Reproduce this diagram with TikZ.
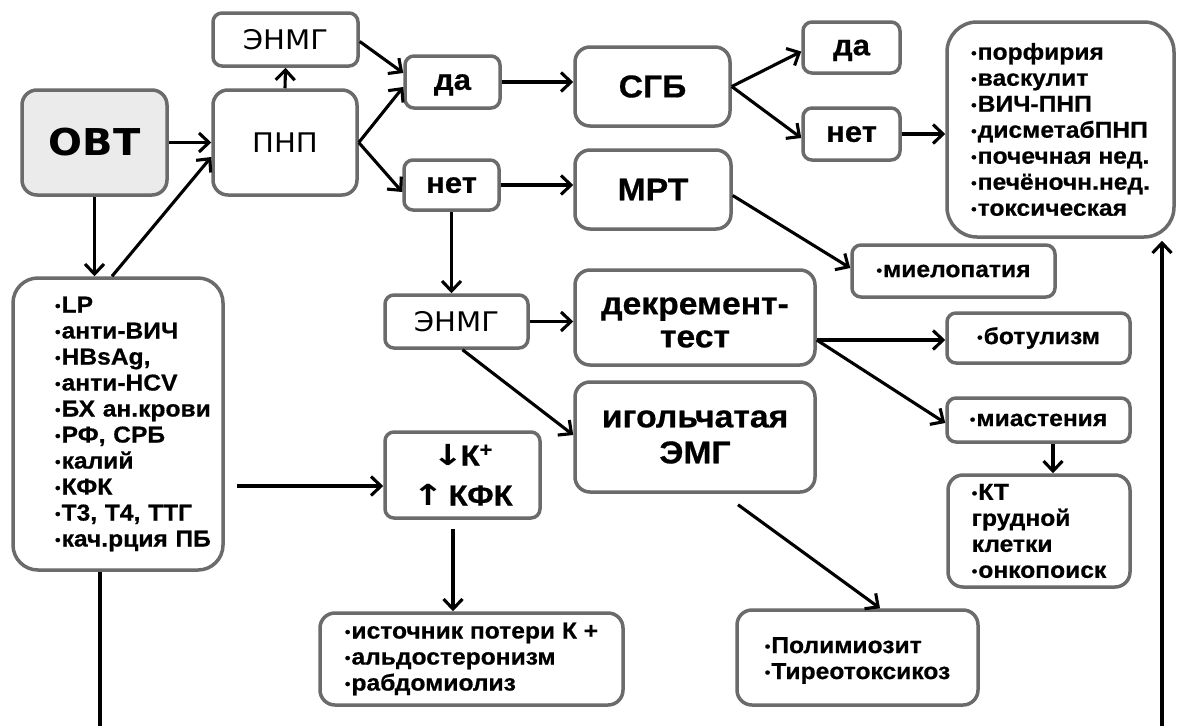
\documentclass[tikz,border=0pt]{standalone}
\usepackage{fontspec}
\setmainfont{Liberation Sans}[FakeStretch=1.07, BoldFeatures={FakeBold=0.6}]
\newfontfamily\dv{DejaVu Sans}[FakeStretch=1.08]
\usetikzlibrary{arrows.meta,calc}
\definecolor{bordergray}{HTML}{6B6B6B}
\definecolor{ovtfill}{HTML}{EBEBEB}
\newcommand\bl{{\fontsize{15}{15}\selectfont\raisebox{1.5pt}{•}}\hspace{1pt}}
\newcommand\li[1]{\mbox{\bl #1}}
\begin{document}
\begin{tikzpicture}[x=1pt,y=-1pt,
  box/.style={draw=bordergray, line width=3.5pt, rounded corners=9pt, fill=white, inner sep=0pt},
  bigbox/.style={box, rounded corners=15pt},
  lbl/.style={font=\bfseries\fontsize{29}{32}\selectfont, text depth=0pt},
  big/.style={font=\bfseries\fontsize{31.5}{33}\selectfont},
  lst/.style={font=\bfseries\fontsize{23}{26}\selectfont},
  dvf/.style={font=\dv\fontsize{27}{30}\selectfont},
  con/.style={line width=3.1pt, -{Straight Barb[length=10pt,width=19pt]}},
  ln/.style={line width=3.1pt},
]
\useasboundingbox (0,0) rectangle (1178,726);
\fill[white] (0,0) rectangle (1178,726);

% nodes
\node[bigbox, fill=ovtfill, minimum width=145, minimum height=105, font=\dv\bfseries\fontsize{37}{40}\selectfont] (ovt) at (94.5,142.5) {ОВТ};
\node[bigbox, dvf, minimum width=144, minimum height=105] (pnp) at (285,142.5) {ПНП};
\node[box, dvf, minimum width=145, minimum height=53] (enmg1) at (285.5,39.5) {ЭНМГ};
\node[box, lbl, minimum width=95, minimum height=52] (da1) at (452.5,82) {да};
\node[box, lbl, minimum width=95, minimum height=50] (net1) at (451.5,185) {нет};
\node[bigbox, big, minimum width=155, minimum height=79] (sgb) at (652.5,86.5) {СГБ};
\node[bigbox, big, minimum width=156, minimum height=79] (mrt) at (653,189.5) {МРТ};
\node[box, lbl, minimum width=97, minimum height=51] (da2) at (851.5,47.5) {да};
\node[box, lbl, minimum width=97, minimum height=52] (net2) at (851.5,134) {нет};
\node[box, lst, align=left, rounded corners=30pt, minimum width=227, minimum height=215] (rlist) at (1060.5,129.5)
  {\li{порфирия}\\\li{васкулит}\\\li{ВИЧ-ПНП}\\\li{дисметабПНП}\\\li{почечная нед.}\\\li{печёночн.нед.}\\\li{токсическая}};
\node[box, lst, minimum width=203, minimum height=52] (miel) at (953.5,271) {\li{миелопатия}};
\node[box, lst, align=left, rounded corners=25pt, minimum height=292, text width=126, inner xsep=42] (llist) at (118,424)
  {\li{LP}\\\li{анти-ВИЧ}\\\li{HBsAg,}\\\li{анти-HCV}\\\li{БХ ан.крови}\\\li{РФ, СРБ}\\\li{калий}\\\li{КФК}\\\li{Т3, Т4, ТТГ}\\\li{кач.рция ПБ}};
\node[box, dvf, minimum width=143, minimum height=53] (enmg2) at (456.5,321.5) {ЭНМГ};
\node[bigbox, big, align=center, minimum width=240, minimum height=95] (dekr) at (695,317.5)
  {\raisebox{0pt}[\dimexpr\height+10pt\relax]{декремент-}\\тест};
\node[bigbox, align=center, font=\bfseries\fontsize{31.5}{36}\selectfont, minimum width=240, minimum height=110] (igol) at (695,437) {игольчатая\\ЭМГ};
\node[box, align=center, font=\bfseries\fontsize{29}{40}\selectfont, minimum width=155, minimum height=86] (kbox) at (462.5,475)
  {{\dv\bfseries\scalebox{1.2}[1]{↓}}\hspace{-3pt}К\textsuperscript{+}\\{\dv\bfseries\scalebox{1.2}[1]{↑}}\,КФК};
\node[box, lst, minimum width=183, minimum height=50] (botul) at (1038.5,338) {\li{ботулизм}};
\node[box, lst, minimum width=183, minimum height=44] (miast) at (1038.5,420) {\li{миастения}};
\node[box, lst, align=left, rounded corners=15pt, minimum width=182, minimum height=112] (kt) at (1039,531)
  {\li{КТ}\\грудной\\клетки\\\li{онкопоиск}};
\node[box, lst, align=left, rounded corners=15pt, minimum width=303, minimum height=92] (ist) at (471.5,659)
  {\li{источник потери К +}\\\li{альдостеронизм}\\\li{рабдомиолиз}};
\node[box, lst, align=left, rounded corners=15pt, minimum width=241, minimum height=95] (poly) at (857.5,657.5)
  {\raisebox{0pt}[\dimexpr\height+6pt\relax]{\li{Полимиозит}}\\\li{Тиреотоксикоз}};

% free ends and helper points
\coordinate (lb) at (100,726);
\coordinate (rb) at (1162,726);
\coordinate (lltop) at ($(llist.north)+(-6,0)$);
\coordinate (pnpin) at ($(pnp.west)+(0,14.5)$);
\coordinate (kin) at ($(kbox.west)+(0,11)$);
\coordinate (kout) at ($(kbox.south)+(-9.5,9)$);
\coordinate (mdown) at ($(miast.south)+(14.5,0)$);
\coordinate (igout) at ($(igol.south)+(43,11)$);
\coordinate (llbot) at ($(llist.south)+(-18,0)$);
\coordinate (dkout) at ($(dekr.east)+(0,22.5)$);

% connectors
\draw[con] (ovt.east) -- (pnp.west);
\draw[con] (ovt.south) -- (ovt.south |- llist.north);
\draw[con] (lltop) -- (pnpin);
\draw[con] (pnp.north) -- (enmg1.south);
\draw[con] ($(enmg1.east)+(0,2)$) -- ($(da1.west)+(0,-9)$);
\draw[con] (pnp.east) -- ($(da1.west)+(0,5)$);
\draw[con] (pnp.east) -- ($(net1.west)+(0,7)$);
\draw[con] (da1.east) -- (da1.east -| sgb.west);
\draw[con] (net1.east) -- (net1.east -| mrt.west);
\draw[con] (net1.south) -- (net1.south |- enmg2.north);
\draw[con] (sgb.east) -- ($(da2.west)+(0,4)$);
\draw[con] (sgb.east) -- ($(net2.west)+(0,4)$);
\draw[con] (net2.east) -- (net2.east -| rlist.west);
\draw[con] ($(mrt.east)+(0,6)$) -- ($(miel.west)+(0,-3)$);
\draw[con] (enmg2.east) -- (enmg2.east -| dekr.west);
\draw[con] ($(enmg2.south)+(6,0)$) -- ($(igol.west)+(0,-2)$);
\draw[con] (dkout) -- (dkout -| botul.west);
\draw[con] (dkout) -- ($(miast.west)+(0,3)$);
\draw[con] (mdown) -- (mdown |- kt.north);
\draw[con, shorten <=12pt] (kin -| llist.east) -- (kin);
\draw[con] (kout) -- (kout |- ist.north);
\draw[con] (igout) -- ($(poly.north)+(22.5,0)$);
\draw[ln] (llbot) -- (llbot |- lb);
\draw[con] (rb) -- ($(rb |- rlist.south)+(0,2)$);
\end{tikzpicture}
\end{document}
